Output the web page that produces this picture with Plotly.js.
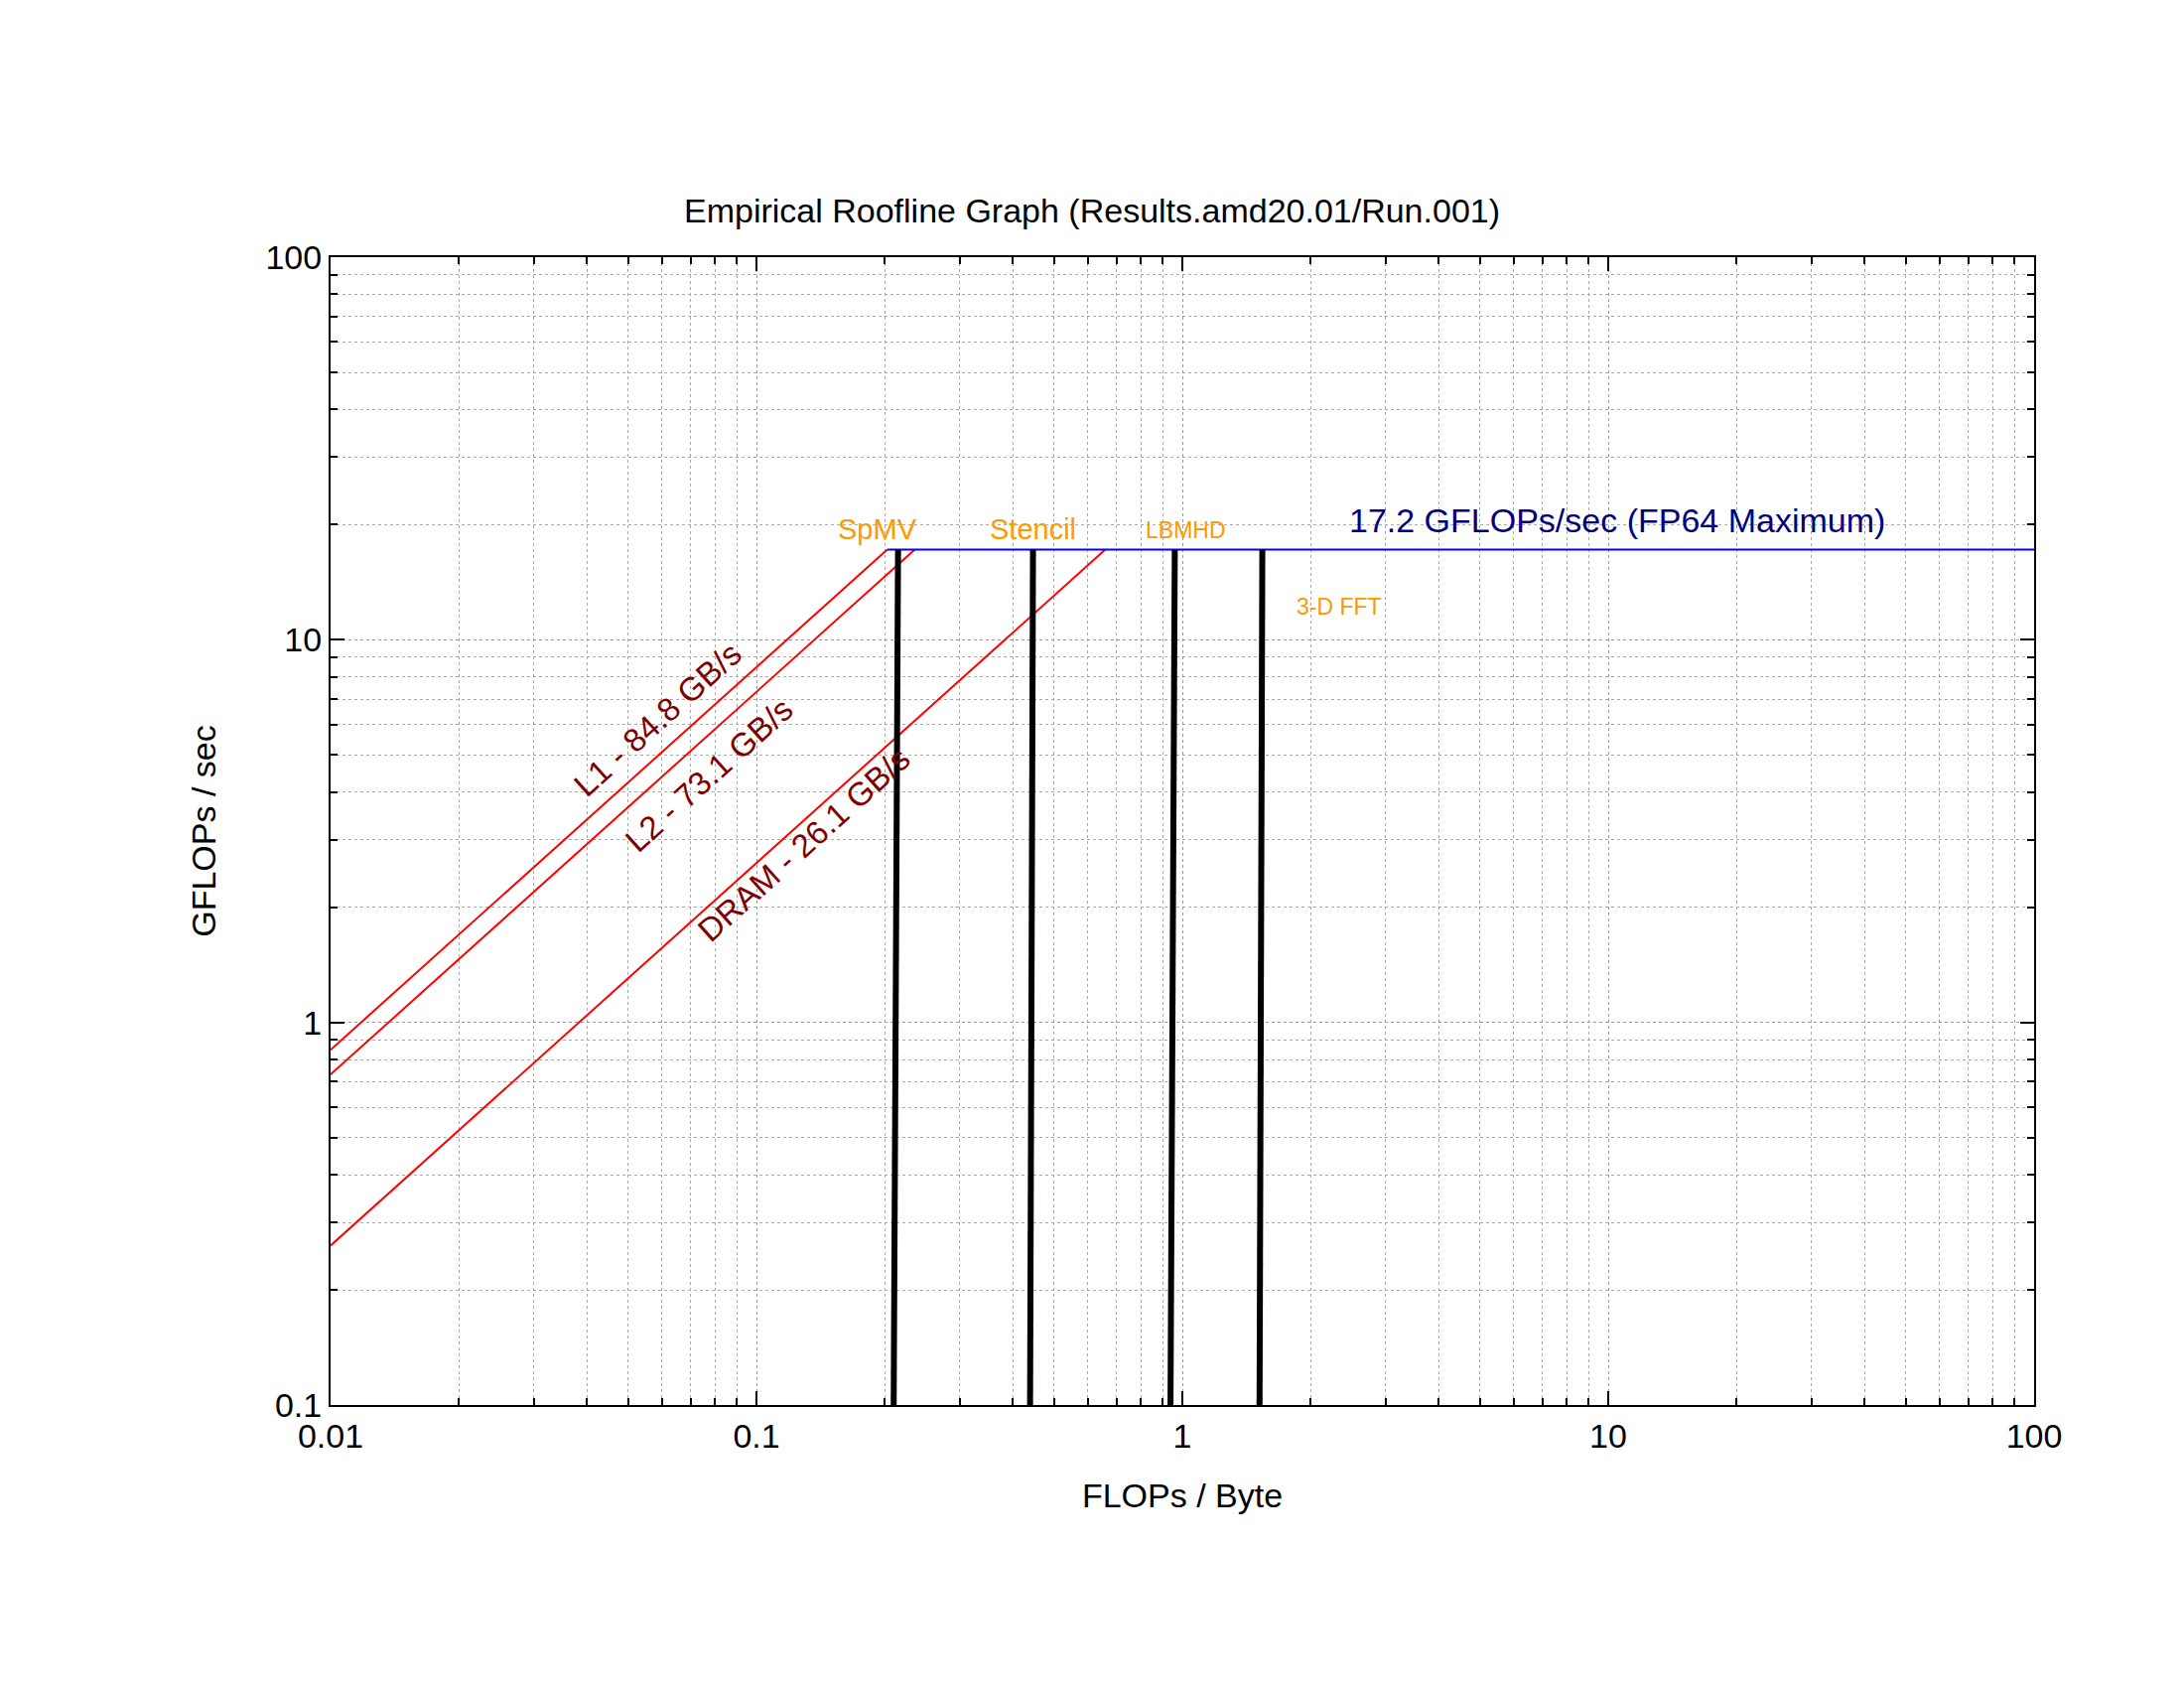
<!DOCTYPE html>
<html>
<head>
<meta charset="utf-8">
<script src="https://cdn.plot.ly/plotly-3.0.1.min.js"></script>
<style>body{margin:0;background:#fff}</style>
</head>
<body>
<div id="chart" style="width:2200px;height:1700px"></div>
<script>
// roofline values
const peakGflops = 17.2;
const roofNames = ['L1 - 84.8 GB/s', 'L2 - 73.1 GB/s', 'DRAM - 26.1 GB/s'];
const roofBandwidth = [84.8, 73.1, 26.1];
const xMin = 0.01, xMax = 100, yMin = 0.1;

// kernels: arithmetic intensity at bottom and top of each bar
const kernelNames = ['SpMV', 'Stencil', 'LBMHD', '3-D FFT'];
const kernelBottom = [0.210, 0.439, 0.938, 1.518];
const kernelTop = [0.215, 0.446, 0.960, 1.541];
const kernelLabelX = [0.192, 0.445, 1.02, 2.33];
const kernelLabelY = [19.5, 19.5, 19.3, 12.2];
const kernelLabelSize = [29, 29, 23, 23];

const roofLabelX = [0.0585, 0.0773, 0.129];
const roofLabelY = [6.2, 4.43, 2.92];

// minor grid: 2..9 in each decade
function minorVals(lo, hi) {
    const v = [];
    for (let d = lo; d < hi; d++) {
        for (let m = 2; m <= 9; m++) v.push(m * Math.pow(10, d));
    }
    return v;
}

const traces = [];
roofBandwidth.forEach(function (bw) {
    traces.push({
        x: [xMin, peakGflops / bw], y: [bw * xMin, peakGflops],
        mode: 'lines', line: {color: '#ff0000', width: 2}
    });
});
traces.push({
    x: [peakGflops / Math.max.apply(null, roofBandwidth), xMax], y: [peakGflops, peakGflops],
    mode: 'lines', line: {color: '#0000ff', width: 2}
});
kernelNames.forEach(function (n, i) {
    traces.push({
        x: [kernelBottom[i], kernelTop[i]], y: [yMin, peakGflops],
        mode: 'lines', line: {color: '#000', width: 6}
    });
});

const annotations = [];
roofNames.forEach(function (n, i) {
    annotations.push({
        x: Math.log10(roofLabelX[i]), y: Math.log10(roofLabelY[i]), text: n,
        showarrow: false, textangle: -42, font: {size: 33, color: '#800000'}
    });
});
kernelNames.forEach(function (n, i) {
    annotations.push({
        x: Math.log10(kernelLabelX[i]), y: Math.log10(kernelLabelY[i]), text: n,
        showarrow: false, font: {size: kernelLabelSize[i], color: '#ff9900'}
    });
});
annotations.push({
    x: Math.log10(10.5), y: Math.log10(20.5), text: '17.2 GFLOPs/sec (FP64 Maximum)',
    showarrow: false, font: {size: 34, color: '#000080'}
});

const axisCommon = {
    type: 'log', showline: true, mirror: 'ticks', linecolor: '#000', linewidth: 2,
    ticks: 'inside', ticklen: 14, tickwidth: 2, tickcolor: '#000',
    showgrid: true, gridcolor: '#999', griddash: 'dot', gridwidth: 1,
    zeroline: false, tickfont: {size: 34, color: '#000'}
};

const layout = {
    width: 2200, height: 1700,
    margin: {l: 333, r: 151, t: 259, b: 285},
    paper_bgcolor: '#fff', plot_bgcolor: '#fff',
    showlegend: false,
    font: {family: 'Liberation Sans, Arial, sans-serif', color: '#000'},
    title: {text: 'Empirical Roofline Graph (Results.amd20.01/Run.001)',
            font: {size: 34}, x: 0.5, xanchor: 'center', y: 1 - 200 / 1700},
    xaxis: Object.assign({}, axisCommon, {
        range: [-2, 2], tickmode: 'array', tickvals: [0.01, 0.1, 1, 10, 100],
        ticktext: ['0.01', '0.1', '1', '10', '100'],
        title: {text: 'FLOPs / Byte', font: {size: 34}, standoff: 30},
        minor: {tickmode: 'array', tickvals: minorVals(-2, 2), ticks: 'inside', ticklen: 7,
                tickcolor: '#000', showgrid: true, gridcolor: '#aaa', griddash: 'dot'}
    }),
    yaxis: Object.assign({}, axisCommon, {
        range: [-1, 2], tickmode: 'array', tickvals: [0.1, 1, 10, 100],
        ticktext: ['0.1', '1', '10', '100'],
        title: {text: 'GFLOPs / sec', font: {size: 34}, standoff: 40},
        minor: {tickmode: 'array', tickvals: minorVals(-1, 2), ticks: 'inside', ticklen: 7,
                tickcolor: '#000', showgrid: true, gridcolor: '#aaa', griddash: 'dot'}
    }),
    annotations: annotations
};

Plotly.newPlot('chart', traces, layout, {staticPlot: true});
</script>
</body>
</html>
